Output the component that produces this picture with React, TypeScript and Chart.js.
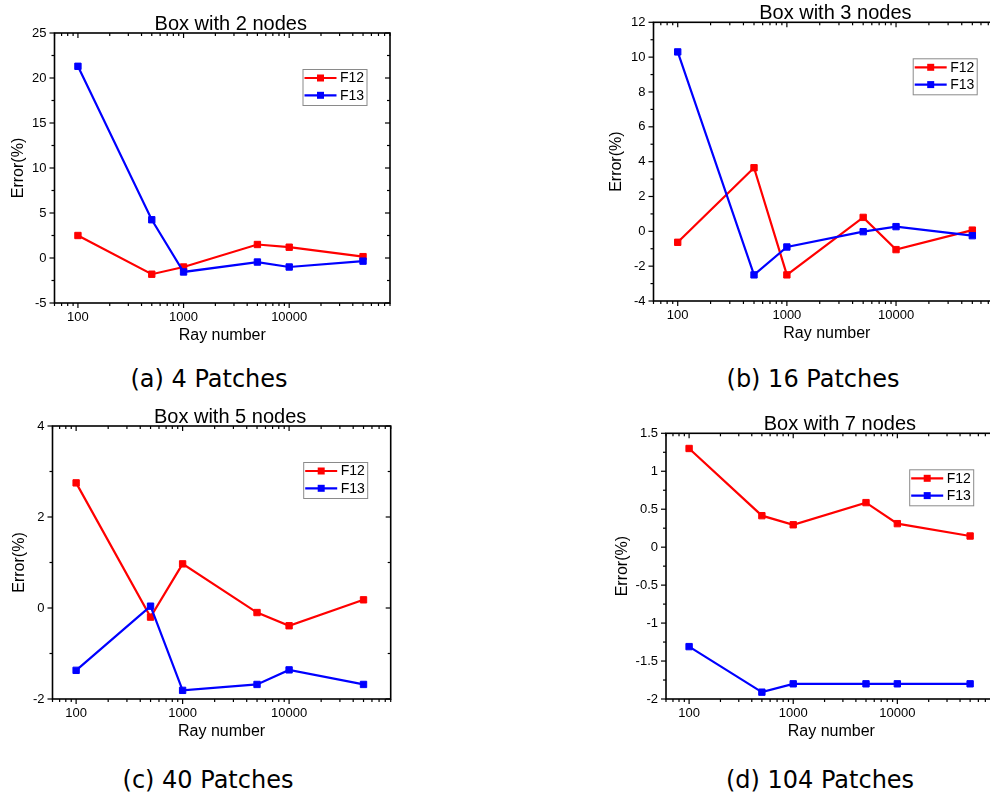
import React, { useEffect, useRef } from "react";
import { Chart, registerables } from "chart.js";

Chart.register(...registerables);

// ---------- data ----------
const RAYS = [100, 500, 1000, 5000, 10000, 50000];
const X_TICKS = [100, 1000, 10000];
const X_MIN = 60;
const X_MAX = 90000;
const SERIES_NAMES = ["F12", "F13"];
const SERIES_COLORS = ["#ff0000", "#0000ff"];

const A_F12 = [2.5, -1.8, -1.0, 1.5, 1.2, 0.15];
const A_F13 = [21.3, 4.25, -1.55, -0.45, -1.0, -0.35];
const A_Y_TICKS = [-5, 0, 5, 10, 15, 20, 25];

const B_F12 = [-0.63, 3.65, -2.5, 0.8, -1.05, 0.07];
const B_F13 = [10.3, -2.5, -0.9, -0.02, 0.27, -0.25];
const B_Y_TICKS = [-4, -2, 0, 2, 4, 6, 8, 10, 12];

const C_F12 = [2.75, -0.2, 0.97, -0.1, -0.39, 0.18];
const C_F13 = [-1.37, 0.04, -1.81, -1.68, -1.36, -1.68];
const C_Y_TICKS = [-2, 0, 2, 4];

const D_F12 = [1.3, 0.415, 0.295, 0.587, 0.31, 0.147];
const D_F13 = [-1.31, -1.91, -1.8, -1.8, -1.8, -1.8];
const D_Y_TICKS = [-2, -1.5, -1, -0.5, 0, 0.5, 1, 1.5];

const TITLES = ["Box with 2 nodes", "Box with 3 nodes", "Box with 5 nodes", "Box with 7 nodes"];
const CAPTIONS = ["(a) 4 Patches", "(b) 16 Patches", "(c) 40 Patches", "(d) 104 Patches"];
const X_TITLE = "Ray number";
const Y_TITLE = "Error(%)";

// ---------- layout ----------
const FONT = '"Liberation Sans", Arial, Helvetica, sans-serif';
const XH = 45;

type Panel = {
  title: string;
  caption: string;
  f12: number[];
  f13: number[];
  yTicks: number[];
  canvas: { left: number; top: number; width: number; height: number };
  area: { L: number; T: number; R: number; B: number };
  yTitlePad: number;
  capX: number;
  capY: number;
};

const PANELS: Panel[] = [
  {
    title: TITLES[0], caption: CAPTIONS[0], f12: A_F12, f13: A_F13, yTicks: A_Y_TICKS,
    canvas: { left: 0, top: 0, width: 420, height: 350 },
    area: { L: 54.5, T: 33, R: 390, B: 303 },
    yTitlePad: 8.9, capX: 209, capY: 379,
  },
  {
    title: TITLES[1], caption: CAPTIONS[1], f12: B_F12, f13: B_F13, yTicks: B_Y_TICKS,
    canvas: { left: 596, top: 0, width: 420, height: 350 },
    area: { L: 653.5, T: 22.3, R: 1000.2, B: 301 },
    yTitlePad: 11.1, capX: 813, capY: 379,
  },
  {
    title: TITLES[2], caption: CAPTIONS[2], f12: C_F12, f13: C_F13, yTicks: C_Y_TICKS,
    canvas: { left: 0, top: 396, width: 420, height: 350 },
    area: { L: 52.5, T: 426, R: 390.7, B: 699 },
    yTitlePad: 10.4, capX: 208, capY: 780,
  },
  {
    title: TITLES[3], caption: CAPTIONS[3], f12: D_F12, f13: D_F13, yTicks: D_Y_TICKS,
    canvas: { left: 596, top: 400, width: 420, height: 350 },
    area: { L: 666, T: 433.3, R: 996.7, B: 699 },
    yTitlePad: 16.7, capX: 820, capY: 780,
  },
];

function makePlugin(title: string, yTicks: number[]) {
  return {
    id: "frameTicksLegend",
    afterDraw(chart: any) {
      const ctx = chart.ctx as CanvasRenderingContext2D;
      const { left, right, top, bottom } = chart.chartArea;
      const xs = chart.scales.x;
      const ys = chart.scales.y;
      ctx.save();
      ctx.strokeStyle = "#000";
      ctx.lineWidth = 1.6;
      ctx.strokeRect(left, top, right - left, bottom - top);

      const seg = (x1: number, y1: number, x2: number, y2: number) => {
        ctx.beginPath();
        ctx.moveTo(x1, y1);
        ctx.lineTo(x2, y2);
        ctx.stroke();
      };
      ctx.lineWidth = 1.2;
      // y ticks
      for (let i = 0; i < yTicks.length; i++) {
        const py = ys.getPixelForValue(yTicks[i]);
        seg(left, py, left - 5, py);
        seg(right, py, right - 5, py);
        if (i < yTicks.length - 1) {
          const pm = ys.getPixelForValue((yTicks[i] + yTicks[i + 1]) / 2);
          seg(left, pm, left - 3, pm);
          seg(right, pm, right - 3, pm);
        }
      }
      // x ticks (log, majors + minors)
      const min = xs.min, max = xs.max;
      for (let e = Math.floor(Math.log10(min)); e <= Math.ceil(Math.log10(max)); e++) {
        for (let m = 1; m <= 9; m++) {
          const v = m * Math.pow(10, e);
          if (v < min - 1e-9 || v > max + 1e-9) continue;
          const len = X_TICKS.includes(v) ? 5 : 3;
          const px = xs.getPixelForValue(v);
          seg(px, bottom, px, bottom + len);
          seg(px, top, px, top + len);
        }
      }

      // title
      ctx.fillStyle = "#000";
      ctx.font = `20px ${FONT}`;
      ctx.textAlign = "center";
      ctx.textBaseline = "alphabetic";
      ctx.fillText(title, (left + right) / 2 + 8.5, top - 3.5);

      // legend
      const bw = 64, bh = 36;
      const x0 = right - 23.5 - bw;
      const y0 = top + 36;
      ctx.fillStyle = "#fff";
      ctx.fillRect(x0, y0, bw, bh);
      ctx.strokeStyle = "#8a8a8a";
      ctx.lineWidth = 1;
      ctx.strokeRect(x0 + 0.5, y0 + 0.5, bw, bh);
      ctx.font = `14px ${FONT}`;
      ctx.textAlign = "left";
      ctx.textBaseline = "middle";
      chart.data.datasets.forEach((ds: any, i: number) => {
        const cy = y0 + 9 + i * 17.3;
        ctx.strokeStyle = ds.borderColor;
        ctx.lineWidth = 2.2;
        seg(x0 + 2, cy, x0 + 34, cy);
        ctx.fillStyle = ds.borderColor;
        ctx.fillRect(x0 + 18 - 3.5, cy - 3.5, 7, 7);
        ctx.fillStyle = "#000";
        ctx.fillText(ds.label, x0 + 37.5, cy + 0.5);
      });
      ctx.restore();
    },
  };
}

function ChartPanel({ p }: { p: Panel }) {
  const ref = useRef<HTMLCanvasElement | null>(null);
  useEffect(() => {
    if (!ref.current) return;
    const { canvas, area } = p;
    const yWidth = area.L - canvas.left;
    const padTop = area.T - canvas.top;
    const padRight = canvas.left + canvas.width - area.R;
    const padBottom = canvas.top + canvas.height - area.B - XH;
    const series = [p.f12, p.f13];
    const chart = new Chart(ref.current, {
      type: "line",
      data: {
        datasets: series.map((vals, i) => ({
          label: SERIES_NAMES[i],
          data: RAYS.map((x, j) => ({ x, y: vals[j] })),
          borderColor: SERIES_COLORS[i],
          backgroundColor: SERIES_COLORS[i],
          pointBackgroundColor: SERIES_COLORS[i],
          pointBorderColor: SERIES_COLORS[i],
          borderWidth: 2.2,
          pointStyle: "rect",
          pointRadius: 4.5,
          pointBorderWidth: 1,
          tension: 0,
          order: i === 0 ? 1 : 0,
        })),
      },
      options: {
        responsive: false,
        animation: false,
        devicePixelRatio: 1,
        events: [],
        layout: {
          autoPadding: false,
          padding: { left: 0, top: padTop, right: padRight, bottom: padBottom },
        },
        plugins: {
          legend: { display: false },
          title: { display: false },
          tooltip: { enabled: false },
        },
        scales: {
          x: {
            type: "logarithmic",
            position: "bottom",
            min: X_MIN,
            max: X_MAX,
            grid: { display: false, drawTicks: false },
            border: { display: false },
            ticks: {
              color: "#000",
              font: { size: 13, family: FONT },
              padding: 7,
              autoSkip: false,
              maxRotation: 0,
              callback: (v: any) => String(v),
            },
            afterBuildTicks: (s: any) => {
              s.ticks = X_TICKS.map((v) => ({ value: v }));
            },
            afterFit: (s: any) => {
              s.height = XH;
            },
            title: {
              display: true,
              text: X_TITLE,
              color: "#000",
              font: { size: 16, family: FONT },
              padding: { top: 0, bottom: 2.4 },
            },
          },
          y: {
            type: "linear",
            position: "left",
            min: p.yTicks[0],
            max: p.yTicks[p.yTicks.length - 1],
            grid: { display: false, drawTicks: false },
            border: { display: false },
            ticks: {
              color: "#000",
              font: { size: 13, family: FONT },
              padding: 8,
              autoSkip: false,
              callback: (v: any) => String(v),
            },
            afterBuildTicks: (s: any) => {
              s.ticks = p.yTicks.map((v) => ({ value: v }));
            },
            afterFit: (s: any) => {
              s.width = yWidth;
            },
            title: {
              display: true,
              text: Y_TITLE,
              color: "#000",
              font: { size: 16, family: FONT },
              padding: { top: p.yTitlePad, bottom: 0 },
            },
          },
        },
      },
      plugins: [makePlugin(p.title, p.yTicks)],
    } as any);
    return () => chart.destroy();
  }, [p]);

  const { canvas } = p;
  return (
    <>
      <canvas
        ref={ref}
        width={canvas.width}
        height={canvas.height}
        style={{
          position: "absolute",
          left: canvas.left,
          top: canvas.top,
          width: canvas.width,
          height: canvas.height,
        }}
      />
      <div
        style={{
          position: "absolute",
          left: p.capX - 150,
          top: p.capY - 16,
          width: 300,
          height: 32,
          lineHeight: "32px",
          textAlign: "center",
          fontFamily: '"DejaVu Sans", sans-serif',
          fontSize: 24,
          color: "#000",
          whiteSpace: "nowrap",
        }}
      >
        {p.caption}
      </div>
    </>
  );
}

export default function App() {
  return (
    <div
      style={{
        position: "absolute",
        left: 0,
        top: 0,
        width: 990,
        height: 796,
        overflow: "hidden",
        background: "#fff",
      }}
    >
      {PANELS.map((p, i) => (
        <ChartPanel key={i} p={p} />
      ))}
    </div>
  );
}
